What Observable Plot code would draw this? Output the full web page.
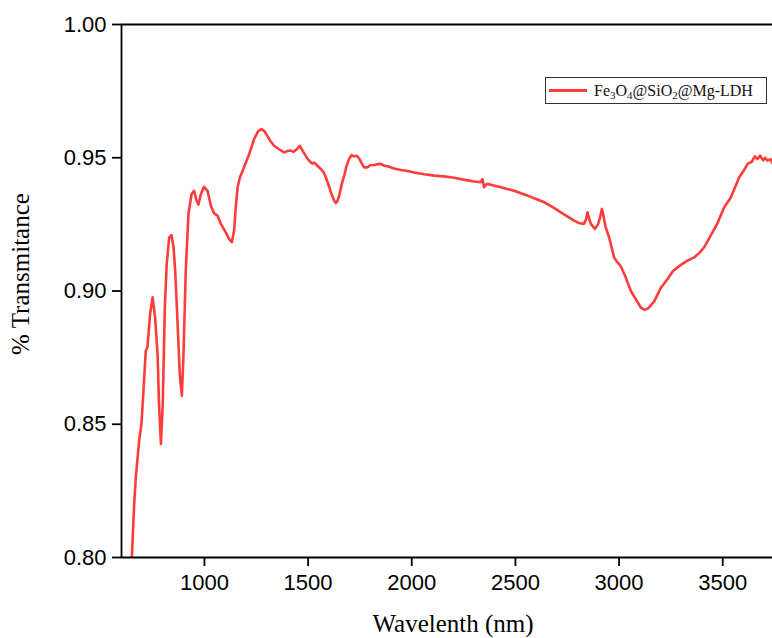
<!DOCTYPE html>
<html>
<head>
<meta charset="utf-8">
<script src="https://cdn.jsdelivr.net/npm/d3@7"></script>
<script src="https://cdn.jsdelivr.net/npm/@observablehq/plot@0.6"></script>
<style>
  html, body { margin: 0; padding: 0; background: #fff; }
  #wrap { position: relative; width: 772px; height: 638px; overflow: hidden; }
  #legend {
    position: absolute; left: 545px; top: 77px; width: 222px; height: 27px;
    border: 1.5px solid #333; background: #fff; box-sizing: border-box;
    font-family: "Liberation Serif", "Times New Roman", serif; font-size: 16px; color: #111;
    display: flex; align-items: center; white-space: nowrap;
  }
  #legend .swatch { display: inline-block; width: 38px; height: 3px; background: #ff3c3c; margin: 0 7px 0 3px; }
  #legend sub { font-size: 11px; vertical-align: -3px; line-height: 0; }
</style>
</head>
<body>
<div id="wrap"></div>
<script>
const wavenumber = [
  650, 661, 669, 685, 696, 704, 717, 725, 738, 750, 762, 774, 781, 790, 799, 809, 818, 830, 841, 851,
  859, 870, 881, 891, 899, 910, 923, 938, 950, 962, 971, 983, 998, 1015, 1031, 1047, 1063, 1079, 1103, 1119,
  1132, 1143, 1151, 1160, 1171, 1191, 1216, 1240, 1259, 1275, 1291, 1317, 1336, 1360, 1384, 1400, 1417, 1430, 1449, 1460,
  1473, 1490, 1505, 1520, 1530, 1545, 1561, 1575, 1586, 1600, 1610, 1625, 1634, 1640, 1650, 1662, 1674, 1686, 1698, 1710,
  1722, 1734, 1746, 1758, 1770, 1787, 1800, 1819, 1835, 1851, 1867, 1883, 1915, 1947, 1980, 2011, 2060, 2108, 2155, 2204,
  2250, 2301, 2333, 2341, 2349, 2357, 2365, 2400, 2430, 2460, 2494, 2530, 2558, 2600, 2639, 2680, 2719, 2750, 2783, 2810,
  2830, 2840, 2848, 2856, 2864, 2883, 2898, 2908, 2917, 2924, 2935, 2952, 2976, 2990, 3009, 3030, 3057, 3080, 3105, 3124,
  3140, 3169, 3200, 3234, 3260, 3298, 3330, 3362, 3390, 3410, 3440, 3475, 3507, 3539, 3560, 3579, 3600, 3620, 3640, 3655,
  3668, 3680, 3695, 3705, 3716, 3730, 3741
];
const transmittance = [
  0.800, 0.820, 0.830, 0.8438, 0.850, 0.860, 0.8776, 0.8788, 0.8914, 0.8976, 0.890, 0.8763, 0.8576, 0.8426, 0.8576, 0.8938, 0.910, 0.920, 0.921, 0.9164,
  0.9076, 0.8889, 0.8688, 0.8607, 0.8763, 0.9076, 0.9289, 0.9364, 0.9376, 0.9339, 0.9324, 0.9364, 0.9391, 0.9376, 0.932, 0.9291, 0.9283, 0.9252, 0.922, 0.9195,
  0.9183, 0.9226, 0.9314, 0.9389, 0.9426, 0.9464, 0.9514, 0.9571, 0.9599, 0.9608, 0.9598, 0.9564, 0.9545, 0.9532, 0.952, 0.9525, 0.9527, 0.9522, 0.9535, 0.9545,
  0.9527, 0.9505, 0.9489, 0.9478, 0.9482, 0.947, 0.9458, 0.9445, 0.9426, 0.9395, 0.937, 0.934, 0.933, 0.9335, 0.9358, 0.940, 0.9433, 0.947, 0.9496, 0.951,
  0.9505, 0.9508, 0.9498, 0.948, 0.9464, 0.9464, 0.9472, 0.9473, 0.9476, 0.9477, 0.947, 0.9468, 0.946, 0.9454, 0.945, 0.9445, 0.9438, 0.9433, 0.943, 0.9425,
  0.9418, 0.9411, 0.9408, 0.942, 0.9389, 0.9398, 0.9402, 0.9395, 0.9389, 0.9383, 0.9376, 0.9366, 0.9358, 0.9345, 0.9333, 0.9315, 0.9295, 0.928, 0.9264, 0.9254,
  0.9252, 0.9268, 0.9295, 0.927, 0.9252, 0.9233, 0.925, 0.9275, 0.9308, 0.9285, 0.924, 0.9201, 0.9126, 0.911, 0.9092, 0.9055, 0.900, 0.897, 0.8938, 0.8929,
  0.8935, 0.896, 0.901, 0.9045, 0.9075, 0.9098, 0.9114, 0.9126, 0.9145, 0.9164, 0.9205, 0.9255, 0.9314, 0.9351, 0.939, 0.9426, 0.945, 0.9477, 0.9485, 0.9505,
  0.9495, 0.9508, 0.949, 0.950, 0.9489, 0.9495, 0.9478
];
const xTicks = [1000, 1500, 2000, 2500, 3000, 3500];
const yTicks = [0.80, 0.85, 0.90, 0.95, 1.00];
const xTitle = "Wavelenth (nm)";
const yTitle = "% Transmitance";
const seriesName = "Fe3O4@SiO2@Mg-LDH";

const data = wavenumber.map((w, i) => ({w, t: transmittance[i]}));

const chart = Plot.plot({
  width: 772,
  height: 638,
  marginLeft: 121,
  marginRight: 0,
  marginTop: 24,
  marginBottom: 81,
  style: {fontFamily: "'Liberation Sans', Arial, sans-serif", fontSize: "22px", color: "#000", background: "#fff", overflow: "visible"},
  x: {domain: [600, 3740]},
  y: {domain: [0.80, 1.00]},
  marks: [
    Plot.line(data, {x: "w", y: "t", stroke: "#ff3c3c", strokeWidth: 2.6, clip: true}),
    Plot.ruleY([1.00], {stroke: "#000", strokeWidth: 1.8}),
    Plot.ruleY([0.80], {stroke: "#000", strokeWidth: 1.8}),
    Plot.ruleX([600], {stroke: "#000", strokeWidth: 1.8}),
    Plot.axisX(xTicks, {tickSize: 9, tickPadding: 8, tickFormat: d => String(d), label: null, fontSize: 22, strokeWidth: 1.8}),
    Plot.axisY(yTicks, {tickSize: 9, tickPadding: 6, tickFormat: d3.format(".2f"), label: null, fontSize: 22, strokeWidth: 1.8}),
    Plot.text([xTitle], {frameAnchor: "bottom", textAnchor: "middle", lineAnchor: "middle", dx: 6, dy: 66, fontFamily: "'Liberation Serif', 'Times New Roman', serif", fontSize: 25, fill: "#000"}),
    Plot.text([yTitle], {frameAnchor: "left", textAnchor: "middle", lineAnchor: "middle", dx: -101, dy: -17, rotate: -90, fontFamily: "'Liberation Serif', 'Times New Roman', serif", fontSize: 25, fill: "#000"})
  ]
});

const wrap = document.getElementById("wrap");
wrap.appendChild(chart);
const leg = document.createElement("div");
leg.id = "legend";
const sw = document.createElement("span");
sw.className = "swatch";
leg.appendChild(sw);
const lab = document.createElement("span");
lab.innerHTML = seriesName.replace(/(\d)/g, "<sub>$1</sub>");
leg.appendChild(lab);
wrap.appendChild(leg);
</script>
</body>
</html>
